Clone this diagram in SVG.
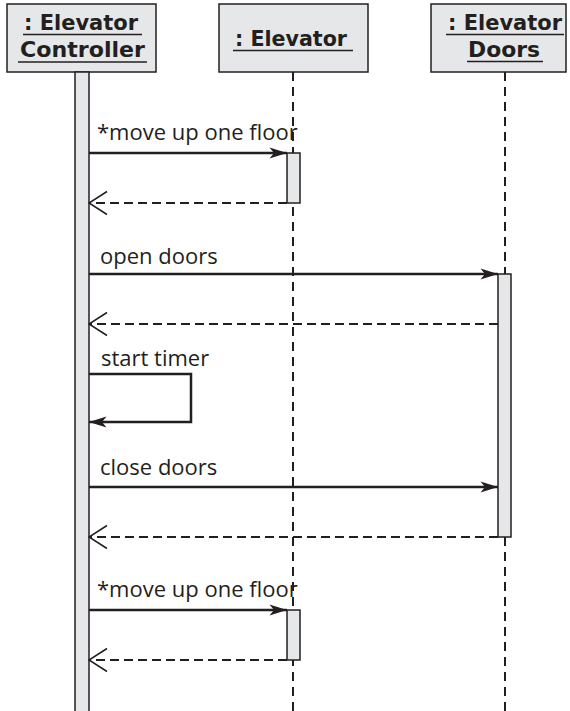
<svg xmlns="http://www.w3.org/2000/svg" width="570" height="711" viewBox="0 0 570 711">
<style>
  .box { fill: #e6e7e8; stroke: #231f20; stroke-width: 1.5; }
  .hdr { font-family: "DejaVu Sans", sans-serif; font-weight: bold; font-size: 22px; fill: #231f20; text-anchor: middle; }
  .ul { stroke: #231f20; stroke-width: 1.5; }
  .life { stroke: #231f20; stroke-width: 2; stroke-dasharray: 9 6; fill: none; }
  .act { fill: #e6e7e8; stroke: #231f20; stroke-width: 1.5; }
  .msg { stroke: #231f20; stroke-width: 2.5; fill: none; marker-end: url(#filled); }
  .ret { stroke: #231f20; stroke-width: 2; stroke-dasharray: 9 5; fill: none; marker-end: url(#open); }
  .lbl { font-family: "Open Sans", "Liberation Sans", sans-serif; font-size: 22px; fill: #231f20; }
</style>
<defs>
  <marker id="filled" viewBox="0 0 18 12" refX="18" refY="6" markerWidth="18" markerHeight="12" orient="auto" markerUnits="userSpaceOnUse">
    <path d="M0.5,0.5 L18,6 L0.5,11.5 L5,6 Z" fill="#231f20" stroke="none"/>
  </marker>
  <marker id="open" viewBox="0 0 20 26" refX="19" refY="13" markerWidth="20" markerHeight="26" orient="auto" markerUnits="userSpaceOnUse">
    <path d="M1,1.5 L19,13 L1,24.5" fill="none" stroke="#231f20" stroke-width="1.5" stroke-dasharray="none"/>
  </marker>
</defs>

<g id="lifelines">
  <line class="life" x1="293" y1="72" x2="293" y2="711"/>
  <line class="life" x1="505" y1="72" x2="505" y2="711"/>
</g>

<g id="controller">
  <rect class="box" x="7" y="4" width="149" height="68"/>
  <text class="hdr" x="81" y="30" textLength="114" lengthAdjust="spacingAndGlyphs">: Elevator</text>
  <line class="ul" x1="23" y1="34.5" x2="142" y2="34.5"/>
  <text class="hdr" x="82.5" y="57" textLength="125" lengthAdjust="spacingAndGlyphs">Controller</text>
  <line class="ul" x1="18" y1="62" x2="147" y2="62"/>
  <rect class="act" x="75" y="72" width="14" height="645"/>
</g>

<g id="elevator">
  <rect class="box" x="219" y="4" width="149" height="68"/>
  <text class="hdr" x="291" y="46" textLength="112" lengthAdjust="spacingAndGlyphs">: Elevator</text>
  <line class="ul" x1="233" y1="50.5" x2="353" y2="50.5"/>
  <rect class="act" x="287" y="153" width="13" height="50"/>
  <rect class="act" x="287" y="610" width="13" height="50"/>
</g>

<g id="doors">
  <rect class="box" x="431" y="4" width="135" height="68"/>
  <text class="hdr" x="505" y="30" textLength="114" lengthAdjust="spacingAndGlyphs">: Elevator</text>
  <line class="ul" x1="446" y1="34.5" x2="564" y2="34.5"/>
  <text class="hdr" x="504" y="57" textLength="72" lengthAdjust="spacingAndGlyphs">Doors</text>
  <line class="ul" x1="467" y1="61.5" x2="543" y2="61.5"/>
  <rect class="act" x="498" y="274" width="13" height="263"/>
</g>

<g id="connectors">
  <line class="msg" x1="89" y1="153" x2="287" y2="153"/>
  <text class="lbl" x="97" y="140">*move up one floor</text>
  <line class="ret" x1="287" y1="203" x2="89" y2="203"/>

  <line class="msg" x1="89" y1="274" x2="498" y2="274"/>
  <text class="lbl" x="100" y="264">open doors</text>
  <line class="ret" x1="498" y1="324" x2="89" y2="324"/>

  <path class="msg" d="M89,374 H191 V422 H89"/>
  <text class="lbl" x="101" y="366">start timer</text>

  <line class="msg" x1="89" y1="487" x2="498" y2="487"/>
  <text class="lbl" x="100" y="475">close doors</text>
  <line class="ret" x1="498" y1="537" x2="89" y2="537"/>

  <line class="msg" x1="89" y1="610" x2="287" y2="610"/>
  <text class="lbl" x="97" y="597">*move up one floor</text>
  <line class="ret" x1="287" y1="660" x2="89" y2="660"/>
</g>
</svg>
